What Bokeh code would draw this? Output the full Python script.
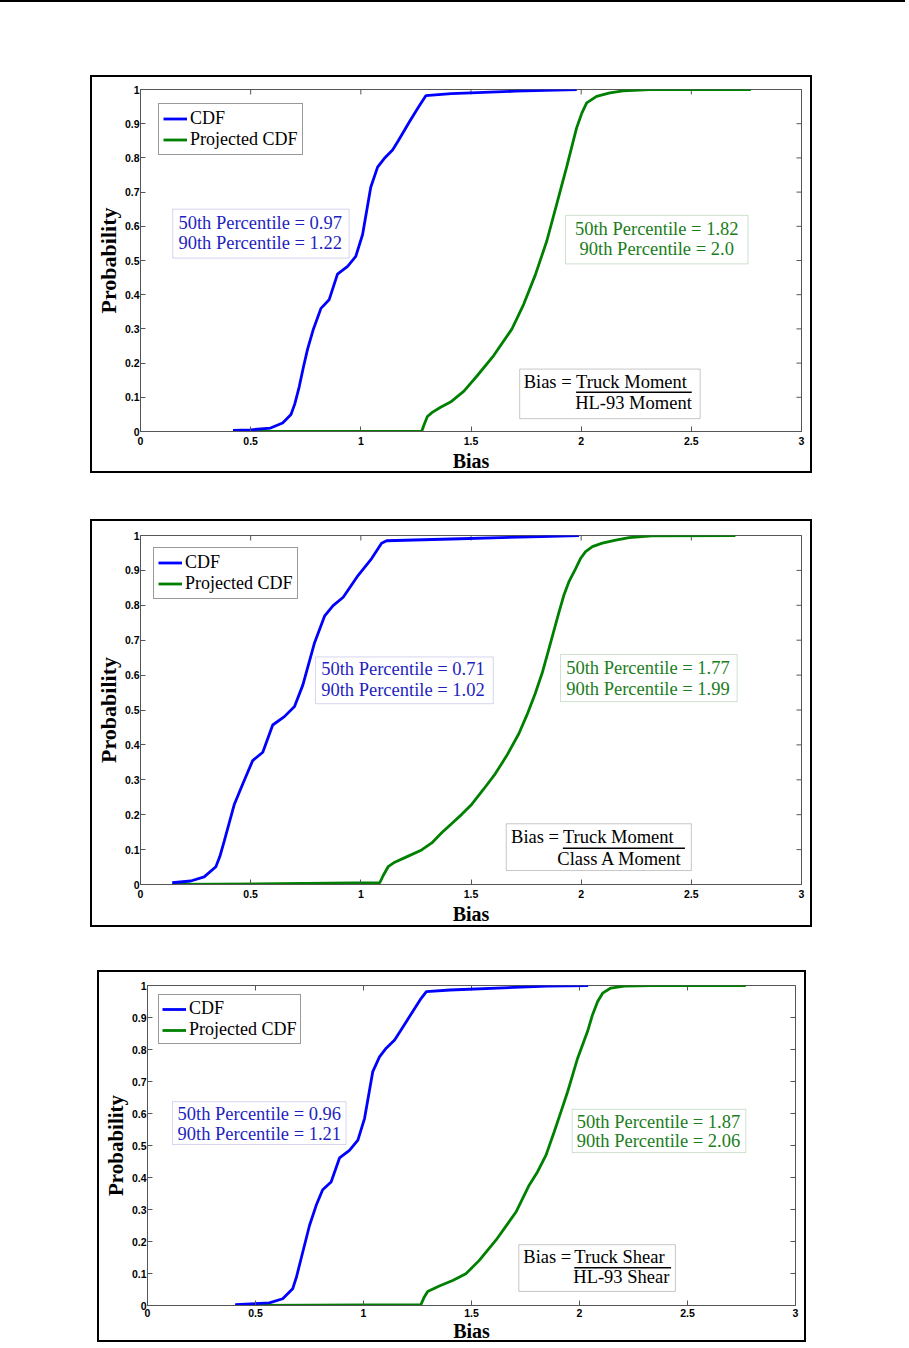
import math
from bokeh.plotting import figure
from bokeh.models import (Legend, LegendItem, Label, BoxAnnotation,
                          FixedTicker, Range1d, Arrow, Div)
from bokeh.layouts import column
from bokeh.embed import file_html
from bokeh.resources import INLINE

# ---------------- data ----------------
x_ticks = [0, 0.5, 1, 1.5, 2, 2.5, 3]
x_tick_labels = ["0", "0.5", "1", "1.5", "2", "2.5", "3"]
y_ticks = [0, 0.1, 0.2, 0.3, 0.4, 0.5, 0.6, 0.7, 0.8, 0.9, 1]
y_tick_labels = ["0", "0.1", "0.2", "0.3", "0.4", "0.5", "0.6", "0.7", "0.8", "0.9", "1"]
series_names = ["CDF", "Projected CDF"]
x_title = "Bias"
y_title = "Probability"

# Panel 1: truck moment / HL-93 moment
p1_cdf_x = [0.42, 0.50, 0.59, 0.645, 0.683, 0.70, 0.72, 0.74, 0.758, 0.785, 0.819, 0.856,
            0.894, 0.94, 0.977, 1.008, 1.045, 1.076, 1.106, 1.144, 1.17, 1.22, 1.264, 1.295,
            1.41, 1.70, 1.98]
p1_cdf_y = [0.003, 0.005, 0.01, 0.025, 0.05, 0.08, 0.13, 0.19, 0.24, 0.30, 0.36, 0.385,
            0.46, 0.483, 0.512, 0.576, 0.714, 0.773, 0.798, 0.823, 0.85, 0.905, 0.951, 0.982,
            0.988, 0.995, 1.0]
p1_proj_x = [0.42, 1.276, 1.287, 1.302, 1.324, 1.362, 1.407, 1.468, 1.528, 1.603, 1.686,
             1.739, 1.792, 1.844, 1.889, 1.934, 1.979, 2.003, 2.025, 2.07, 2.13, 2.19, 2.31, 2.77]
p1_proj_y = [0.0, 0.0, 0.020, 0.044, 0.056, 0.071, 0.086, 0.118, 0.163, 0.222, 0.300,
             0.372, 0.458, 0.557, 0.665, 0.773, 0.887, 0.931, 0.961, 0.980, 0.990, 0.996, 1.0, 1.0]
p1_cdf_text = ["50th Percentile = 0.97", "90th Percentile = 1.22"]
p1_proj_text = ["50th Percentile = 1.82", "90th Percentile = 2.0"]
p1_formula = ["Bias = ", "Truck Moment", "HL-93 Moment"]

# Panel 2: truck moment / Class A moment
p2_cdf_x = [0.144, 0.228, 0.289, 0.342, 0.36, 0.38, 0.426, 0.464, 0.509, 0.555, 0.60, 0.653,
            0.699, 0.737, 0.79, 0.836, 0.874, 0.92, 0.988, 1.049, 1.094, 1.117, 1.41, 1.82, 1.99]
p2_cdf_y = [0.005, 0.01, 0.022, 0.051, 0.08, 0.124, 0.23, 0.288, 0.355, 0.379, 0.457, 0.481,
            0.51, 0.572, 0.693, 0.77, 0.799, 0.823, 0.886, 0.934, 0.978, 0.985, 0.99, 0.997, 1.0]
p2_proj_x = [0.144, 1.086, 1.101, 1.124, 1.154, 1.200, 1.276, 1.322, 1.367, 1.413, 1.458,
             1.504, 1.557, 1.610, 1.663, 1.717, 1.754, 1.792, 1.823, 1.853, 1.876, 1.899,
             1.921, 1.944, 1.975, 1.997, 2.020, 2.051, 2.096, 2.157, 2.218, 2.32, 2.70]
p2_proj_y = [0.0, 0.005, 0.025, 0.051, 0.064, 0.077, 0.099, 0.119, 0.148, 0.175, 0.201,
             0.230, 0.273, 0.317, 0.370, 0.432, 0.486, 0.548, 0.606, 0.674, 0.727, 0.780,
             0.828, 0.867, 0.905, 0.934, 0.954, 0.968, 0.978, 0.987, 0.994, 0.999, 1.0]
p2_cdf_text = ["50th Percentile = 0.71", "90th Percentile = 1.02"]
p2_proj_text = ["50th Percentile = 1.77", "90th Percentile = 1.99"]
p2_formula = ["Bias = ", "Truck Moment", "Class A Moment"]

# Panel 3: truck shear / HL-93 shear
p3_cdf_x = [0.406, 0.564, 0.626, 0.672, 0.69, 0.711, 0.75, 0.781, 0.811, 0.85, 0.889, 0.935,
            0.974, 1.005, 1.043, 1.074, 1.105, 1.144, 1.17, 1.198, 1.267, 1.291, 1.40, 1.85, 2.04]
p3_cdf_y = [0.003, 0.008, 0.021, 0.052, 0.09, 0.146, 0.25, 0.313, 0.362, 0.386, 0.461, 0.485,
            0.517, 0.585, 0.731, 0.777, 0.804, 0.83, 0.857, 0.887, 0.96, 0.981, 0.986, 0.998, 1.0]
p3_proj_x = [0.406, 1.266, 1.281, 1.297, 1.351, 1.413, 1.474, 1.536, 1.613, 1.706, 1.767,
             1.806, 1.845, 1.883, 1.914, 1.945, 1.968, 1.991, 2.014, 2.037, 2.060, 2.084,
             2.107, 2.145, 2.207, 2.33, 2.77]
p3_proj_y = [0.0, 0.003, 0.026, 0.044, 0.061, 0.078, 0.099, 0.141, 0.204, 0.292, 0.376,
             0.418, 0.470, 0.543, 0.605, 0.668, 0.720, 0.772, 0.814, 0.856, 0.908, 0.950,
             0.976, 0.992, 0.998, 1.0, 1.0]
p3_cdf_text = ["50th Percentile = 0.96", "90th Percentile = 1.21"]
p3_proj_text = ["50th Percentile = 1.87", "90th Percentile = 2.06"]
p3_formula = ["Bias = ", "Truck Shear", "HL-93 Shear"]

# ---------------- styling ----------------
BLUE = "#0000ff"
GREEN = "#008000"
BLUE_TXT = "#1f1fbf"
GREEN_TXT = "#1b7d1b"
BLUE_BOX = "#7474cc"
GREEN_BOX = "#5c9c5c"
AX = "#555555"
SERIF = "Liberation Serif"
SANS = "Liberation Sans"
FS = "18.5px"
TXT_DY = 6  # screen px lift for text baselines


def style_axis(ax, ticks, labels, standoff):
    ax.ticker = FixedTicker(ticks=ticks)
    ax.major_label_overrides = {t: l for t, l in zip(ticks, labels)}
    ax.minor_tick_line_color = None
    ax.major_tick_in = 5
    ax.major_tick_out = 0
    ax.major_tick_line_color = AX
    ax.axis_line_color = AX
    ax.major_label_text_font = SANS
    ax.major_label_text_font_style = "bold"
    ax.major_label_text_font_size = "10.5px"
    ax.major_label_text_color = "black"
    ax.major_label_standoff = standoff


def make_panel(cdf_x, cdf_y, proj_x, proj_y, cdf_text, proj_text, formula, g):
    p = figure(width=g["w"], height=g["h"], x_range=Range1d(0, 3), y_range=Range1d(0, 1),
               output_backend="svg", toolbar_location=None,
               min_border_left=g["bl"], min_border_right=g["br"],
               min_border_top=g["bt"], min_border_bottom=g["bb"],
               margin=g["margin"], styles={"border": "2px solid black"})
    p.xgrid.visible = False
    p.ygrid.visible = False
    p.outline_line_color = AX
    p.outline_line_width = 1
    p.background_fill_color = "white"
    p.border_fill_color = "white"

    xa, ya = p.xaxis[0], p.yaxis[0]
    style_axis(xa, x_ticks, x_tick_labels, g["xls"])
    style_axis(ya, y_ticks, y_tick_labels, 1)
    xa.axis_label = x_title
    ya.axis_label = y_title
    for ax, size in ((xa, g["xfs"]), (ya, g["yfs"])):
        ax.axis_label_text_font = SERIF
        ax.axis_label_text_font_style = "bold"
        ax.axis_label_text_font_size = size
        ax.axis_label_text_color = "black"
    xa.axis_label_standoff = g["xas"]
    ya.axis_label_standoff = 1

    # inward ticks on the top and right frame edges (half of each dash is clipped)
    p.scatter(x=x_ticks, y=[p.y_range.end] * len(x_ticks), marker="dash", size=10,
              angle=math.pi / 2, line_color=AX, line_width=1)
    p.scatter(x=[p.x_range.end] * len(y_ticks), y=y_ticks, marker="dash", size=10,
              line_color=AX, line_width=1)

    r_proj = p.line(proj_x, proj_y, line_color=GREEN, line_width=2.8)
    r_cdf = p.line(cdf_x, cdf_y, line_color=BLUE, line_width=2.8)

    legend = Legend(items=[LegendItem(label=series_names[0], renderers=[r_cdf]),
                           LegendItem(label=series_names[1], renderers=[r_proj])],
                    location=g["leg"], orientation="vertical",
                    label_text_font=SERIF, label_text_font_size="18px",
                    label_text_color="black",
                    border_line_color="#333333", border_line_width=1,
                    background_fill_color="white", background_fill_alpha=1,
                    padding=g["lpad"], spacing=0, margin=0,
                    glyph_width=24, glyph_height=g["lh"], label_height=g["lh"],
                    label_standoff=3)
    p.add_layout(legend)

    # percentile boxes
    for box, txt, tcol, bcol in ((g["cbox"], cdf_text, BLUE_TXT, BLUE_BOX),
                                 (g["pbox"], proj_text, GREEN_TXT, GREEN_BOX)):
        l, r, t, b, tx, y1, y2, align = box
        p.add_layout(BoxAnnotation(left=l, right=r, top=t, bottom=b,
                                   fill_color="white", fill_alpha=1,
                                   line_color=bcol, line_width=1))
        for s, yy in zip(txt, (y1, y2)):
            p.add_layout(Label(x=tx, y=yy, y_offset=TXT_DY, text=s, text_font=SERIF,
                               text_font_size=FS, text_color=tcol, text_align=align,
                               text_baseline="alphabetic"))

    # formula box
    l, r, t, b, xb, xn, yn, xr, yline, xl2, yd = g["fbox"]
    p.add_layout(BoxAnnotation(left=l, right=r, top=t, bottom=b,
                               fill_color="white", fill_alpha=1,
                               line_color="#444444", line_width=1))
    for s, xx, yy, al in ((formula[0], xb, yn, "left"), (formula[1], xn, yn, "left"),
                          (formula[2], xr, yd, "right")):
        p.add_layout(Label(x=xx, y=yy, y_offset=TXT_DY, text=s, text_font=SERIF,
                           text_font_size=FS, text_color="black", text_align=al,
                           text_baseline="alphabetic"))
    p.add_layout(Arrow(x_start=xn, x_end=xl2, y_start=yline, y_end=yline,
                       end=None, start=None, line_color="black", line_width=1.5))
    return p


g1 = dict(w=722, h=398, bl=46, br=9, bt=12, bb=44, margin=(73, 0, 0, 90),
          xls=5, xas=2, xfs="20px", yfs="22px",
          leg=(18, 276), lpad=4, lh=21,
          cbox=(0.146, 0.947, 0.650, 0.507, 0.172, 0.593, 0.534, "left"),
          pbox=(1.929, 2.757, 0.632, 0.490, 2.343, 0.576, 0.517, "center"),
          fbox=(1.721, 2.54, 0.1825, 0.0376, 1.739, 1.977, 0.127, 2.502, 0.1145, 2.502, 0.065))
g2 = dict(w=722, h=408, bl=47, br=13, bt=14, bb=45, margin=(46, 0, 0, 90),
          xls=5, xas=2, xfs="20px", yfs="22px",
          leg=(13, 285), lpad=4, lh=21,
          cbox=(0.794, 1.601, 0.652, 0.518, 0.82, 0.599, 0.539, "left"),
          pbox=(1.906, 2.708, 0.659, 0.524, 2.303, 0.604, 0.544, "center"),
          fbox=(1.660, 2.500, 0.174, 0.040, 1.682, 1.917, 0.119, 2.461, 0.104, 2.471, 0.056))
g3 = dict(w=709, h=372, bl=47, br=11, bt=13, bb=39, margin=(43, 0, 0, 97),
          xls=3, xas=0, xfs="20px", yfs="21px",
          leg=(11, 261), lpad=3, lh=20,
          cbox=(0.116, 0.919, 0.637, 0.503, 0.139, 0.579, 0.517, "left"),
          pbox=(1.966, 2.770, 0.613, 0.478, 1.987, 0.556, 0.496, "left"),
          fbox=(1.719, 2.444, 0.190, 0.044, 1.740, 1.976, 0.1325, 2.416, 0.118, 2.424, 0.071))

# thin page rule at the very top of the page
page_rule = Div(width=905, height=2, margin=(0, 0, 0, 0),
                styles={"background-color": "black"})

p1 = make_panel(p1_cdf_x, p1_cdf_y, p1_proj_x, p1_proj_y, p1_cdf_text, p1_proj_text, p1_formula, g1)
p2 = make_panel(p2_cdf_x, p2_cdf_y, p2_proj_x, p2_proj_y, p2_cdf_text, p2_proj_text, p2_formula, g2)
p3 = make_panel(p3_cdf_x, p3_cdf_y, p3_proj_x, p3_proj_y, p3_cdf_text, p3_proj_text, p3_formula, g3)

layout = column(page_rule, p1, p2, p3, spacing=0)
open("out.html", "w").write(file_html(layout, INLINE))
